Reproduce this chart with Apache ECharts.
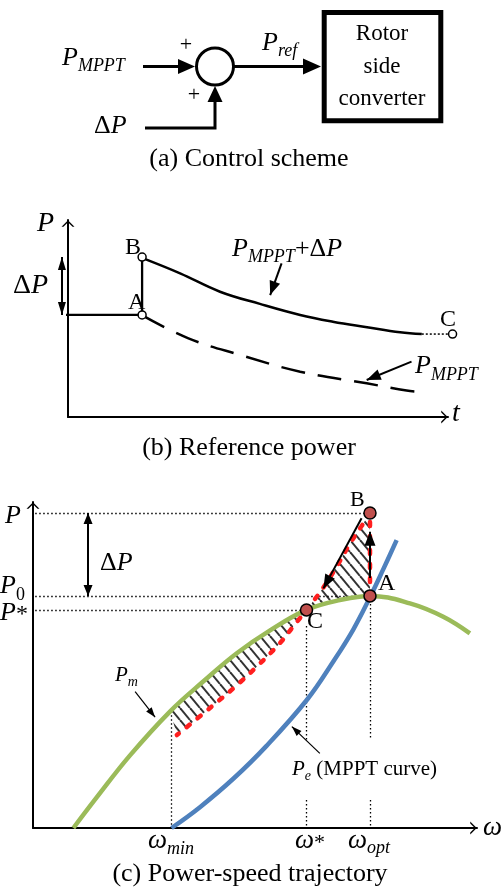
<!DOCTYPE html>
<html>
<head>
<meta charset="utf-8">
<script src="https://cdn.jsdelivr.net/npm/echarts@6/dist/echarts.min.js"></script>
<style>
html,body{margin:0;padding:0;background:#fff;}
#chart{width:502px;height:895px;}
</style>
</head>
<body>
<div id="chart"></div>
<script>
// (b) reference power: t on x, P on y (both 0..10)
const stepT = [-0.47, 1.95, 1.95];
const stepP = [5.18, 5.18, 8.12];
const dpTickT = [-0.47, 0];
const dpTickP = [8.12, 8.12];
const boostT = [1.98, 2.95, 4.0, 5.05, 6.11, 6.97, 7.87, 8.74, 9.31];
const boostP = [8.05, 7.29, 6.36, 5.74, 5.18, 4.84, 4.56, 4.30, 4.21];
const mpptT = [1.98, 3.17, 4.53, 6.11, 7.86, 8.91, 9.32];
const mpptP = [5.13, 3.99, 3.15, 2.30, 1.71, 1.34, 1.28];
const refPointNames = ['A', 'B', 'C'];
const refPointT = [1.95, 1.95, 10.12];
const refPointP = [5.18, 8.12, 4.21];
const refDeltaP = [8.12, 5.18];
// annotation arrows [x1, y1, x2, y2]
const refArrows = [[5.62, 7.80, 5.32, 6.19], [9.04, 2.81, 7.86, 1.88]];

// (c) power-speed: omega on x, P on y (both 0..10)
const pmW = [0.91, 1.43, 2.18, 3.09, 3.84, 4.59, 5.34, 6.16, 6.91, 7.59, 8.49, 9.24, 9.84];
const pmP = [0, 0.93, 2.22, 3.58, 4.50, 5.36, 6.06, 6.69, 6.99, 7.12, 6.89, 6.48, 5.97];
const peW = [3.12, 3.76, 4.51, 5.26, 6.18, 6.76, 7.21, 7.59, 7.89, 8.19];
const peP = [0, 0.64, 1.51, 2.52, 3.95, 5.10, 6.08, 7.08, 7.94, 8.83];
// trajectory B -> C -> omega_min
const trajW = [7.59, 7.40, 7.14, 6.84, 6.50, 6.16, 5.86, 5.56, 5.04, 4.55, 4.02, 3.24];
const trajP = [9.66, 9.26, 8.73, 8.02, 7.30, 6.69, 6.18, 5.67, 4.95, 4.33, 3.72, 2.85];
const pointNames = ['B', 'A', 'C'];
const pointW = [7.59, 7.59, 6.16];
const pointP = [9.66, 7.12, 6.69];
const pTickLabels = ['P', 'P0', 'P*'];
const pTickValues = [9.66, 7.12, 6.69];
const wTickLabels = ['ωmin', 'ω*', 'ωopt'];
const wTickValues = [3.12, 6.16, 7.59];
const deltaPW = 1.24;
const labelGapP = [2.70, 0.86];
const trajArrows = [[7.59, 7.67, 7.59, 9.09], [7.40, 9.50, 6.54, 7.35]];
const curveArrows = [[2.30, 4.18, 2.75, 3.40], [6.46, 2.29, 5.83, 3.11]];

const zip = (a, b) => a.map((v, i) => [v, b[i]]);
const FONT = '"Liberation Serif", "Times New Roman", serif';
const chevron = 'path://M0,10 L10,0 L20,10 L17,10 L10,3 L3,10 Z';
// arrow head whose tip sits in the middle of the symbol box
const head = 'path://M5,14 L10,28 L0,28 Z M5,0 L5.01,0.01 L4.99,0.01 Z';

function axis(grid) {
  return {
    gridIndex: grid, type: 'value', min: 0, max: 10,
    axisLine: {show: true, onZero: false, symbol: ['none', chevron], symbolSize: [13, 7],
      symbolOffset: [0, -3.5], lineStyle: {color: '#000', width: 2}},
    axisTick: {show: false}, axisLabel: {show: false}, splitLine: {show: false}
  };
}

const measureCtx = document.createElement('canvas').getContext('2d');
function fontOf(size, italic) { return (italic ? 'italic ' : '') + size + 'px ' + FONT; }

function txt(s, x, base, size, italic, align) {
  return {
    type: 'text', x: x, y: base - 0.34 * size, silent: true, z: 100,
    style: {text: s, font: fontOf(size, italic), fill: '#000',
      align: align || 'left', verticalAlign: 'middle', textAlign: align || 'left', textVerticalAlign: 'middle'}
  };
}

// parts: [text, size, italic, dy]
function run(parts, x, base) {
  let cx = x;
  return parts.map(p => {
    measureCtx.font = fontOf(p[1], p[2]);
    const el = txt(p[0], cx, base + (p[3] || 0), p[1], p[2]);
    cx += measureCtx.measureText(p[0]).width;
    return el;
  });
}

// size = [head width, 2 * head length]
function arrowLines(grid, list, width, size, both) {
  return {
    type: 'lines', coordinateSystem: 'cartesian2d', xAxisIndex: grid, yAxisIndex: grid, z: 4,
    clip: false, silent: true, symbol: [both ? head : 'none', head], symbolSize: [size, size],
    lineStyle: {color: '#000', width: width, opacity: 1, curveness: 0},
    data: list.map(a => ({coords: [[a[0], a[1]], [a[2], a[3]]]}))
  };
}

// hatch pattern
const tile = document.createElement('canvas');
tile.width = 10; tile.height = 12;
const g = tile.getContext('2d');
g.strokeStyle = '#333'; g.lineWidth = 2;
[-10, 0, 10].forEach(k => { g.beginPath(); g.moveTo(k, 0); g.lineTo(k + 10, 12); g.stroke(); });
const hatchFill = {image: tile, repeat: 'repeat'};

const pointA = [pointW[1], pointP[1]];
const hatchPoly = [pointA].concat(zip(trajW, trajP))
  .concat(zip(pmW, pmP).filter(p => p[0] > 3 && p[0] <= pointA[0]));

// guide lines in (c)
const guideLines = [];
pTickValues.forEach((v, i) => {
  const endW = i === 2 ? wTickValues[1] : wTickValues[2];
  guideLines.push({coords: [[0.05, v], [endW, v]]});
});
guideLines.push({coords: [[wTickValues[0], pmP[3]], [wTickValues[0], 0]]});
guideLines.push({coords: [[wTickValues[1], 6.2], [wTickValues[1], labelGapP[0]]]});
guideLines.push({coords: [[wTickValues[1], labelGapP[1]], [wTickValues[1], 0]]});
guideLines.push({coords: [[wTickValues[2], pTickValues[1]], [wTickValues[2], labelGapP[0]]]});
guideLines.push({coords: [[wTickValues[2], labelGapP[1]], [wTickValues[2], 0]]});

const graphics = [
  // (a) control scheme
  {type: 'line', shape: {x1: 143, y1: 66.5, x2: 182, y2: 66.5}, style: {stroke: '#000', lineWidth: 3}},
  {type: 'polygon', shape: {points: [[178, 59], [195, 66.5], [178, 74]]}, style: {fill: '#000'}},
  {type: 'circle', shape: {cx: 215, cy: 66.5, r: 18.5}, style: {fill: '#fff', stroke: '#000', lineWidth: 3}},
  {type: 'line', shape: {x1: 233.5, y1: 66.5, x2: 306, y2: 66.5}, style: {stroke: '#000', lineWidth: 3}},
  {type: 'polygon', shape: {points: [[303, 58.5], [321, 66.5], [303, 74.5]]}, style: {fill: '#000'}},
  {type: 'polyline', shape: {points: [[145, 128], [215, 128], [215, 100]]}, style: {stroke: '#000', lineWidth: 3, fill: 'none'}},
  {type: 'polygon', shape: {points: [[207.5, 102], [215, 86], [222.5, 102]]}, style: {fill: '#000'}},
  {type: 'rect', shape: {x: 324.2, y: 12.5, width: 116.6, height: 108.3}, style: {fill: '#fff', stroke: '#000', lineWidth: 5}},
  txt('Rotor', 382, 42, 23, false, 'center'),
  txt('side', 382, 75, 23, false, 'center'),
  txt('converter', 382, 107, 23, false, 'center'),
  ...run([['P', 26, true], ['MPPT', 18, true, 5]], 62, 67),
  txt('+', 186, 52.5, 22, false, 'center'), txt('+', 194, 102.5, 22, false, 'center'),
  ...run([['P', 26, true], ['ref', 18, true, 5]], 262, 52),
  ...run([['Δ', 26, false], ['P', 26, true]], 94, 135),
  txt('(a) Control scheme', 249, 168, 26, false, 'center'),
  // (b) reference power
  txt('P', 37, 233, 28, true), txt('t', 452, 423, 28, true),
  ...run([['Δ', 28, false], ['P', 28, true]], 13, 295),
  txt(refPointNames[1], 125, 256, 24), txt(refPointNames[0], 128, 311, 24), txt(refPointNames[2], 440, 328, 24),
  ...run([['P', 26, true], ['MPPT', 18, true, 5], ['+Δ', 26, false], ['P', 26, true]], 232, 258),
  ...run([['P', 26, true], ['MPPT', 18, true, 6]], 415, 375),
  txt('(b) Reference power', 249, 457, 26, false, 'center'),
  // (c) power-speed trajectory
  txt(pTickLabels[0], 5, 525, 26, true),
  ...run([[pTickLabels[1][0], 26, true], [pTickLabels[1].slice(1), 18, false, 6]], 0, 595),
  ...run([[pTickLabels[2][0], 26, true], [pTickLabels[2].slice(1), 24, false, 1]], 0, 622),
  ...run([['Δ', 26, false], ['P', 26, true]], 100, 572),
  txt(pointNames[0], 350, 508, 22), txt(pointNames[1], 378, 592, 24), txt(pointNames[2], 307, 630, 24),
  ...run([['P', 21, true], ['m', 14, true, 4]], 115, 683),
  ...run([['P', 21, true], ['e', 14, true, 4], [' (MPPT curve)', 21, false, 0]], 292, 777),
  ...run([[wTickLabels[0][0], 27, true], [wTickLabels[0].slice(1), 18, true, 5]], 148, 850),
  ...run([[wTickLabels[1][0], 27, true], [wTickLabels[1].slice(1), 22, false, 1]], 295, 850),
  ...run([[wTickLabels[2][0], 27, true], [wTickLabels[2].slice(1), 18, true, 4]], 348, 850),
  txt('ω', 483, 837, 27, true),
  txt('(c) Power-speed trajectory', 250, 883, 26, false, 'center')
];

const chart = echarts.init(document.getElementById('chart'));
chart.setOption({
  animation: false,
  backgroundColor: '#fff',
  grid: [
    {left: 68, top: 220, width: 380, height: 197, containLabel: false, outerBoundsMode: 'none'},
    {left: 33, top: 502, width: 444, height: 326, containLabel: false, outerBoundsMode: 'none'}
  ],
  xAxis: [axis(0), axis(1)],
  yAxis: [axis(0), axis(1)],
  graphic: graphics,
  series: [
    // ---- (b)
    {type: 'line', xAxisIndex: 0, yAxisIndex: 0, data: zip(stepT, stepP), symbol: 'none', clip: false, silent: true,
      lineStyle: {color: '#000', width: 2.3}},
    {type: 'line', xAxisIndex: 0, yAxisIndex: 0, data: zip(dpTickT, dpTickP), symbol: 'none', clip: false, silent: true,
      lineStyle: {color: '#000', width: 2}},
    {type: 'line', xAxisIndex: 0, yAxisIndex: 0, data: zip(boostT, boostP), smooth: 0.4, symbol: 'none', clip: false, silent: true,
      lineStyle: {color: '#000', width: 2.5}},
    {type: 'line', xAxisIndex: 0, yAxisIndex: 0, data: zip(mpptT, mpptP), smooth: 0.4, symbol: 'none', clip: false, silent: true,
      lineStyle: {color: '#000', width: 2.5, type: [24, 13]}},
    {type: 'line', xAxisIndex: 0, yAxisIndex: 0,
      data: [[boostT[boostT.length - 1], refPointP[2]], [refPointT[2], refPointP[2]]],
      symbol: 'none', clip: false, silent: true, lineStyle: {color: '#000', width: 1.5, type: [2, 2]}},
    {type: 'line', xAxisIndex: 0, yAxisIndex: 0,
      data: [[refPointT[2], refPointP[2]], [refPointT[2], refPointP[2] - 0.45]],
      symbol: 'none', clip: false, silent: true, lineStyle: {color: '#000', width: 1.3}},
    arrowLines(0, refArrows, 2, [11, 28], false),
    arrowLines(0, [[-0.16, refDeltaP[0], -0.16, refDeltaP[1]]], 2, [8, 26], true),
    {type: 'scatter', xAxisIndex: 0, yAxisIndex: 0, clip: false, silent: true, symbol: 'circle', symbolSize: 8, z: 5,
      itemStyle: {color: '#fff', borderColor: '#000', borderWidth: 1.5, opacity: 1},
      data: zip(refPointT, refPointP)},
    // ---- (c)
    {type: 'custom', xAxisIndex: 1, yAxisIndex: 1, silent: true, data: hatchPoly,
      renderItem: function (params, api) {
        if (params.dataIndex !== 0) return null;
        return {type: 'polygon', shape: {points: hatchPoly.map(p => api.coord(p))},
          style: {fill: hatchFill, stroke: null}};
      }},
    {type: 'lines', coordinateSystem: 'cartesian2d', xAxisIndex: 1, yAxisIndex: 1, clip: false, silent: true,
      lineStyle: {color: '#000', width: 1.3, opacity: 1, type: [1.5, 2.5], curveness: 0}, data: guideLines},
    {type: 'line', xAxisIndex: 1, yAxisIndex: 1, data: zip(pmW, pmP), smooth: 0.4, symbol: 'none', silent: true,
      lineStyle: {color: '#9bbb59', width: 4.5}},
    {type: 'line', xAxisIndex: 1, yAxisIndex: 1, data: zip(peW, peP), smooth: 0.4, symbol: 'none', silent: true,
      lineStyle: {color: '#4f81bd', width: 4.5}},
    {type: 'line', xAxisIndex: 1, yAxisIndex: 1, data: [pointA, [trajW[0], trajP[0]]], symbol: 'none', silent: true,
      lineStyle: {color: '#ff1f1f', width: 4.5, type: [4, 10], cap: 'round'}},
    {type: 'line', xAxisIndex: 1, yAxisIndex: 1, data: zip(trajW, trajP), smooth: 0.4, symbol: 'none', silent: true,
      lineStyle: {color: '#ff1f1f', width: 4.5, type: [4, 10], cap: 'round'}},
    arrowLines(1, trajArrows, 2, [11, 28], false),
    arrowLines(1, curveArrows, 1.2, [7, 20], false),
    arrowLines(1, [[deltaPW, pTickValues[0], deltaPW, pTickValues[1]]], 2, [9, 22], true),
    {type: 'scatter', xAxisIndex: 1, yAxisIndex: 1, clip: false, silent: true, symbol: 'circle', symbolSize: 12, z: 5,
      itemStyle: {color: '#c0504d', borderColor: '#000', borderWidth: 1.5, opacity: 1},
      data: zip(pointW, pointP)}
  ]
});
</script>
</body>
</html>
